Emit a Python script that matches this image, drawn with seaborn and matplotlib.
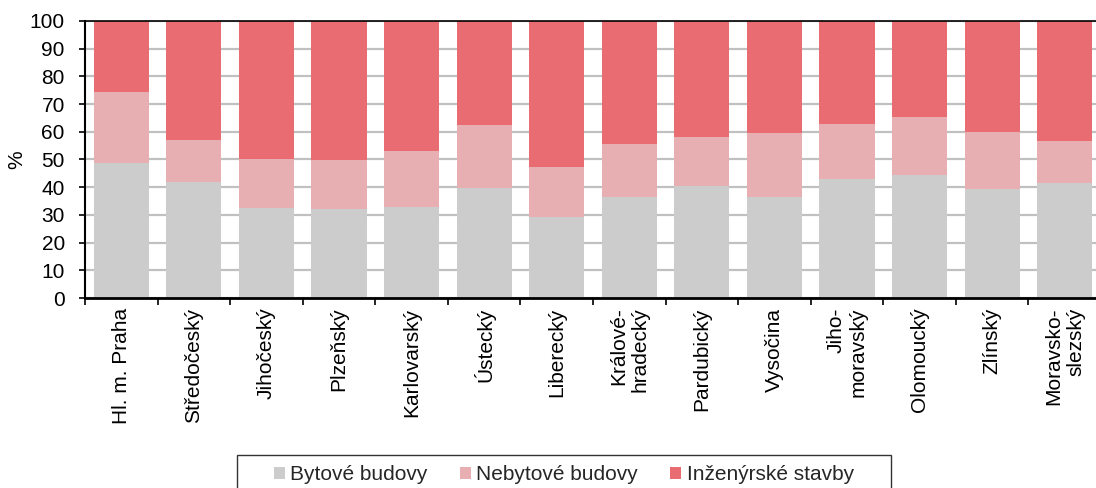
import numpy as np
import pandas as pd
import matplotlib
matplotlib.use("Agg")
import matplotlib.pyplot as plt
from matplotlib.patches import Patch
from matplotlib.offsetbox import DrawingArea
import seaborn as sns

regions = ["Hl. m. Praha", "Středočeský", "Jihočeský", "Plzeňský", "Karlovarský",
           "Ústecký", "Liberecký", "Králové-\nhradecký", "Pardubický", "Vysočina",
           "Jiho-\nmoravský", "Olomoucký", "Zlínský", "Moravsko-\nslezský"]
bytove = [48.6, 42.0, 32.4, 32.3, 33.0, 39.6, 29.2, 36.4, 40.4, 36.6, 42.9, 44.3, 39.3, 41.4]
nebytove = [25.9, 15.0, 17.8, 17.5, 20.1, 22.8, 18.0, 19.3, 17.7, 22.9, 19.9, 21.0, 20.6, 15.2]
inzenyrske = [25.5, 43.0, 49.8, 50.2, 46.9, 37.6, 52.8, 44.3, 41.9, 40.5, 37.2, 34.7, 40.1, 43.4]
series_names = ["Bytové budovy", "Nebytové budovy", "Inženýrské stavby"]
colors = ["#cccccc", "#e7afb2", "#ea6c73"]

sns.set_theme(style="white")
plt.rcParams["font.family"] = ["Liberation Sans", "DejaVu Sans"]
FS = 15

df = pd.DataFrame({"region": regions, "b": bytove, "n": nebytove, "i": inzenyrske})
df["c1"] = df["b"]
df["c2"] = df["b"] + df["n"]
df["c3"] = df["c2"] + df["i"]

fig = plt.figure(figsize=(10.96, 4.88), dpi=100)
ax = fig.add_axes([85 / 1096, 190 / 488, 1016 / 1096, 277 / 488])

for col, c in zip(["c3", "c2", "c1"], colors[::-1]):
    sns.barplot(data=df, x="region", y=col, color=c, saturation=1, width=0.76,
                ax=ax, zorder=2, edgecolor="none", linewidth=0)

ax.set_xlim(-0.5, len(regions) - 0.5)
ax.set_ylim(0, 100)
ax.set_yticks(np.arange(0, 101, 10))
ax.yaxis.grid(True, color="#c0c0c0", linewidth=1.6, zorder=0)
ax.set_axisbelow(True)
ax.tick_params(axis="y", labelsize=FS, length=4.5, width=1.2, color="black",
               direction="out", left=True, pad=10, labelcolor="black")

ax.set_xticks(range(len(regions)))
ax.set_xticklabels(regions, rotation=90, fontsize=FS, color="black")
for t in ax.get_xticklabels():
    t.set_multialignment("right")
ax.set_xticks(np.arange(-0.5, len(regions), 1.0), minor=True)
ax.tick_params(axis="x", which="major", length=0, pad=7)
ax.tick_params(axis="x", which="minor", length=5, width=1.2, color="black",
               direction="out", bottom=True)

ax.set_xlabel("")
ax.set_ylabel("%", fontsize=FS, color="black")
ax.yaxis.set_label_coords(-0.058, 0.5)

for s in ["left", "bottom", "top"]:
    ax.spines[s].set_visible(True)
    ax.spines[s].set_color("black")
ax.spines["left"].set_linewidth(1.5)
ax.spines["bottom"].set_linewidth(2.0)
ax.spines["top"].set_linewidth(1.2)
ax.spines["right"].set_visible(False)

handles = [Patch(facecolor=c, edgecolor="none", label=n) for c, n in zip(colors, series_names)]
leg = fig.legend(handles=handles, loc="upper center", bbox_to_anchor=(564 / 1096, 1 - 455 / 488),
                 ncol=3, fontsize=FS, frameon=True, fancybox=False, edgecolor="black",
                 handlelength=0.53, handleheight=0.53, handletextpad=0.25,
                 columnspacing=1.55, borderpad=0.25, borderaxespad=0, labelspacing=0.25)
leg.get_frame().set_linewidth(1.0)
# widen the frame horizontally and add top room with empty spacers
try:
    hb = leg._legend_handle_box
    hb._children.insert(0, DrawingArea(0, 0))
    hb._children.append(DrawingArea(0, 0))
    leg._legend_box._children.insert(0, DrawingArea(0, 0))
except Exception:
    pass

fig.savefig("out.png", dpi=100)
